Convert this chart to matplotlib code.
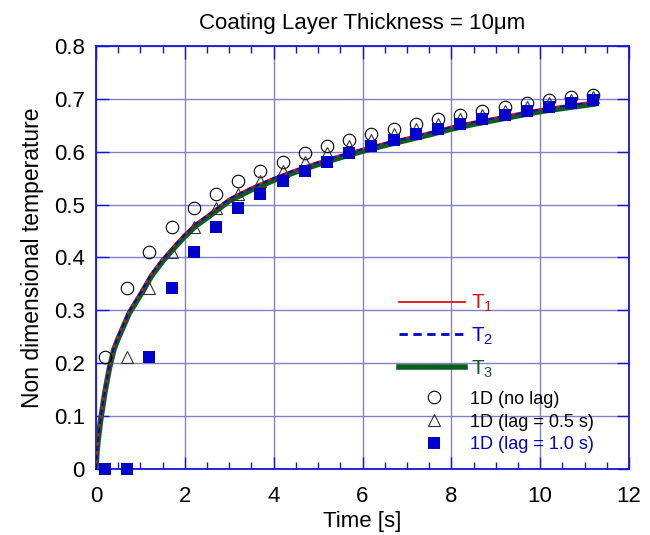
import numpy as np
import matplotlib
matplotlib.use("Agg")
import matplotlib.pyplot as plt
from matplotlib.lines import Line2D

plt.rcParams['font.family'] = ['Liberation Sans', 'DejaVu Sans']
plt.rcParams['mathtext.fontset'] = 'custom'
plt.rcParams['mathtext.rm'] = 'Liberation Sans'
plt.rcParams['mathtext.it'] = 'Liberation Sans'

# model curves
t_model = [0, 0.02, 0.05, 0.1, 0.2, 0.3, 0.4, 0.5, 0.75, 1.0, 1.25, 1.5, 1.75,
           2.0, 2.25, 2.5, 3.0, 3.5, 4.0, 4.5, 5.0, 5.5, 6.0, 6.5, 7.0, 7.5,
           8.0, 8.5, 9.0, 9.5, 10.0, 10.5, 11.2]
T1 = [0, 0.035, 0.06, 0.095, 0.15, 0.195, 0.23, 0.252, 0.300, 0.334, 0.370,
      0.398, 0.422, 0.445, 0.465, 0.480, 0.512, 0.533, 0.551, 0.567, 0.581,
      0.594, 0.606, 0.617, 0.627, 0.637, 0.648, 0.657, 0.665, 0.673, 0.681,
      0.687, 0.695]
T2 = [0, 0.034, 0.059, 0.094, 0.149, 0.194, 0.229, 0.251, 0.299, 0.333, 0.369,
      0.397, 0.421, 0.444, 0.464, 0.479, 0.511, 0.532, 0.550, 0.566, 0.580,
      0.593, 0.605, 0.616, 0.626, 0.636, 0.647, 0.656, 0.664, 0.672, 0.680,
      0.686, 0.694]
T3 = [0, 0.031, 0.056, 0.090, 0.145, 0.190, 0.225, 0.247, 0.295, 0.329, 0.365,
      0.393, 0.417, 0.440, 0.460, 0.475, 0.507, 0.528, 0.546, 0.562, 0.576,
      0.589, 0.601, 0.612, 0.622, 0.632, 0.643, 0.652, 0.660, 0.668, 0.676,
      0.682, 0.690]

# 1D solutions
t_pts = [0.2, 0.7, 1.2, 1.7, 2.2, 2.7, 3.2, 3.7, 4.2, 4.7, 5.2, 5.7, 6.2, 6.7,
         7.2, 7.7, 8.2, 8.7, 9.2, 9.7, 10.2, 10.7, 11.2]
no_lag = [0.212, 0.342, 0.410, 0.457, 0.493, 0.520, 0.544, 0.564, 0.580, 0.597,
          0.611, 0.623, 0.633, 0.643, 0.652, 0.662, 0.669, 0.677, 0.684, 0.692,
          0.697, 0.703, 0.707]
lag_05 = [0.0, 0.212, 0.342, 0.410, 0.457, 0.493, 0.520, 0.544, 0.564, 0.580,
          0.597, 0.611, 0.623, 0.633, 0.643, 0.652, 0.662, 0.669, 0.677, 0.684,
          0.692, 0.697, 0.703]
lag_10 = [0.0, 0.0, 0.212, 0.342, 0.410, 0.457, 0.493, 0.520, 0.544, 0.564,
          0.580, 0.597, 0.611, 0.623, 0.633, 0.643, 0.652, 0.662, 0.669, 0.677,
          0.684, 0.692, 0.697]

red = '#e01010'
blue = '#0000cc'
green = '#0b5e1e'
axis_blue = '#1515d8'
grid_col = '#8080c8'

fig = plt.figure(figsize=(6.5, 5.35), dpi=100)
ax = fig.add_axes([96/650, 1-469/535, 533/650, 423/535])

ax.plot(t_model, T3, color=green, lw=4.0, zorder=3)
ax.plot(t_model, T1, color=red, lw=1.3, zorder=4)
ax.plot(t_model, T2, color=blue, lw=1.3, ls=(0, (3, 2)), zorder=5)

ax.plot(t_pts, no_lag, 'o', ms=9, mfc='none', mec='black', mew=0.8, zorder=6)
ax.plot(t_pts, lag_05, '^', ms=9, mfc='none', mec='#333333', mew=0.8, zorder=6)
ax.plot(t_pts, lag_10, 's', ms=8.5, mfc=blue, mec=blue, mew=0, zorder=7,
        clip_on=False)

ax.set_xlim(0, 12)
ax.set_ylim(0, 0.8)
ax.set_xticks(np.arange(0, 13, 2))
ax.set_xticks(np.arange(0, 12.01, 0.5), minor=True)
ax.set_yticks(np.arange(0, 0.81, 0.1))
ax.set_yticklabels(['0', '0.1', '0.2', '0.3', '0.4', '0.5', '0.6', '0.7', '0.8'])
ax.grid(True, which='major', color=grid_col, lw=1.0)
ax.set_axisbelow(True)
ax.tick_params(which='both', direction='in', top=True, right=True,
               color=axis_blue, labelsize=16, width=1.0)
ax.tick_params(which='major', length=9)
ax.tick_params(which='minor', length=5)
ax.tick_params(axis='x', pad=12)
ax.tick_params(axis='y', pad=8)
for sp in ax.spines.values():
    sp.set_color(axis_blue)
    sp.set_linewidth(1.3)

ax.set_xlabel('Time [s]', fontsize=16, labelpad=3)
ax.set_ylabel('Non dimensional temperature', fontsize=16.5, labelpad=7)
ax.set_title('Coating Layer Thickness = 10μm', fontsize=16, pad=12)

h1 = [Line2D([], [], color=red, lw=1.3),
      Line2D([], [], color=blue, lw=2.0, ls=(0, (3, 2))),
      Line2D([], [], color=green, lw=4.0)]
leg1 = ax.legend(h1, ['T$_1$', 'T$_2$', 'T$_3$'], loc='upper left',
                 bbox_to_anchor=(0.568, 0.416), frameon=False, fontsize=15,
                 handlelength=3.2, handletextpad=0.25, labelspacing=0.55,
                 borderpad=0, borderaxespad=0,
                 labelcolor=[red, blue, green])
ax.add_artist(leg1)

h2 = [Line2D([], [], marker='o', ls='none', ms=9, mfc='none', mec='black', mew=0.8),
      Line2D([], [], marker='^', ls='none', ms=9, mfc='none', mec='#333333', mew=0.8),
      Line2D([], [], marker='s', ls='none', ms=8.5, mfc=blue, mec=blue, mew=0)]
ax.legend(h2, ['1D (no lag)', '1D (lag = 0.5 s)', '1D (lag = 1.0 s)'],
          loc='upper left', bbox_to_anchor=(0.60, 0.185), frameon=False,
          fontsize=13, handlelength=2.0, handletextpad=1.0, labelspacing=0.32,
          borderpad=0, borderaxespad=0,
          labelcolor=['black', 'black', blue])

fig.savefig('out.png', dpi=100)
